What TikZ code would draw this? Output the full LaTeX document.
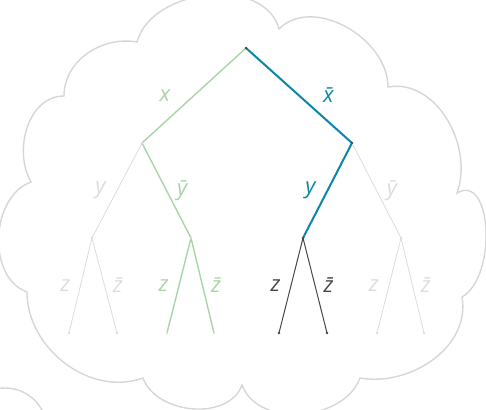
\documentclass[tikz,border=0pt]{standalone}
\usepackage{fontspec}
\setmainfont{Open Sans}
\definecolor{cloudgray}{HTML}{D6D6D6}
\definecolor{pale}{HTML}{DCDCDC}
\definecolor{leaf}{HTML}{A9D4A7}
\definecolor{route}{HTML}{0B86A8}
\definecolor{ink}{HTML}{474747}
\tikzset{
	cloudline/.style={draw=cloudgray,line width=1.4pt},
	cold/.style={draw=pale,line width=0.8pt,text=pale},
	warm/.style={draw=leaf,line width=1.4pt,text=leaf},
	hot/.style={draw=route,line width=2pt,text=route},
	dark/.style={draw=ink,line width=1pt,text=ink},
	lab/.style={inner sep=0pt,font=\fontsize{22}{26}\selectfont\itshape},
}
\begin{document}
\begin{tikzpicture}
				\useasboundingbox (0,0) rectangle (486pt,409pt);
				\clip (0,0) rectangle (486pt,409pt);
				% cloud
				\draw[cloudline] (137pt,367pt) to[out=75,in=105] (279pt,380pt)
					to[out=45,in=90] (388pt,322pt)
					to[out=10,in=70] (457pt,216pt)
					to[out=30,in=30] (462pt,112pt)
					to[out=-80,in=-10] (360pt,31pt)
					to[out=-110,in=-70] (242pt,24pt)
					to[out=-110,in=-70] (143pt,31pt)
					to[out=-160,in=-90] (27pt,117pt)
					to[out=160,in=200] (31pt,227pt)
					to[out=120,in=180] (64pt,313pt)
					to[out=90,in=170] cycle;
				\draw[cloudline] (5pt,-21pt) circle (42pt);
				% tree
				\coordinate (r) at (246pt,361pt);
				\coordinate (a) at (142pt,266pt);
				\coordinate (b) at (352pt,266pt);
				\coordinate (aa) at (92pt,171pt);
				\coordinate (ab) at (191pt,171pt);
				\coordinate (ba) at (303pt,171pt);
				\coordinate (bb) at (401pt,171pt);
				\coordinate (l1) at (69pt,76pt);
				\coordinate (l2) at (117pt,76pt);
				\coordinate (l3) at (167pt,76pt);
				\coordinate (l4) at (214pt,76pt);
				\coordinate (l5) at (279pt,76pt);
				\coordinate (l6) at (327pt,76pt);
				\coordinate (l7) at (377pt,76pt);
				\coordinate (l8) at (424pt,76pt);
				\draw[warm] (r)--(a) node[midway,left=23pt,lab] {x};
				\draw[hot] (r)--(b) node[midway,right=23pt,lab] {\={x}};
				\draw[cold] (a)--(aa) node[midway,left=11pt,lab] {y};
				\draw[warm] (a)--(ab) node[midway,right=10pt,lab] {\={y}};
				\draw[hot] (b)--(ba) node[midway,left=11pt,lab] {y};
				\draw[cold] (b)--(bb) node[midway,right=10pt,lab] {\={y}};
				\draw[cold] (aa)--(l1) node[midway,left=10pt,lab] {z};
				\draw[cold] (aa)--(l2) node[midway,right=8pt,lab] {\={z}};
				\draw[warm] (ab)--(l3) node[midway,left=10pt,lab] {z};
				\draw[warm] (ab)--(l4) node[midway,right=8pt,lab] {\={z}};
				\draw[dark] (ba)--(l5) node[midway,left=10pt,lab] {z};
				\draw[dark] (ba)--(l6) node[midway,right=8pt,lab] {\={z}};
				\draw[cold] (bb)--(l7) node[midway,left=10pt,lab] {z};
				\draw[cold] (bb)--(l8) node[midway,right=8pt,lab] {\={z}};
				\foreach \P in {a,aa,ab,bb,l1,l2,l3,l4,l7,l8} \fill[pale] (\P) circle (1.3pt);
				\foreach \P in {r,b,ba,l5,l6} \fill[ink] (\P) circle (1.3pt);
			\end{tikzpicture}
\end{document}
